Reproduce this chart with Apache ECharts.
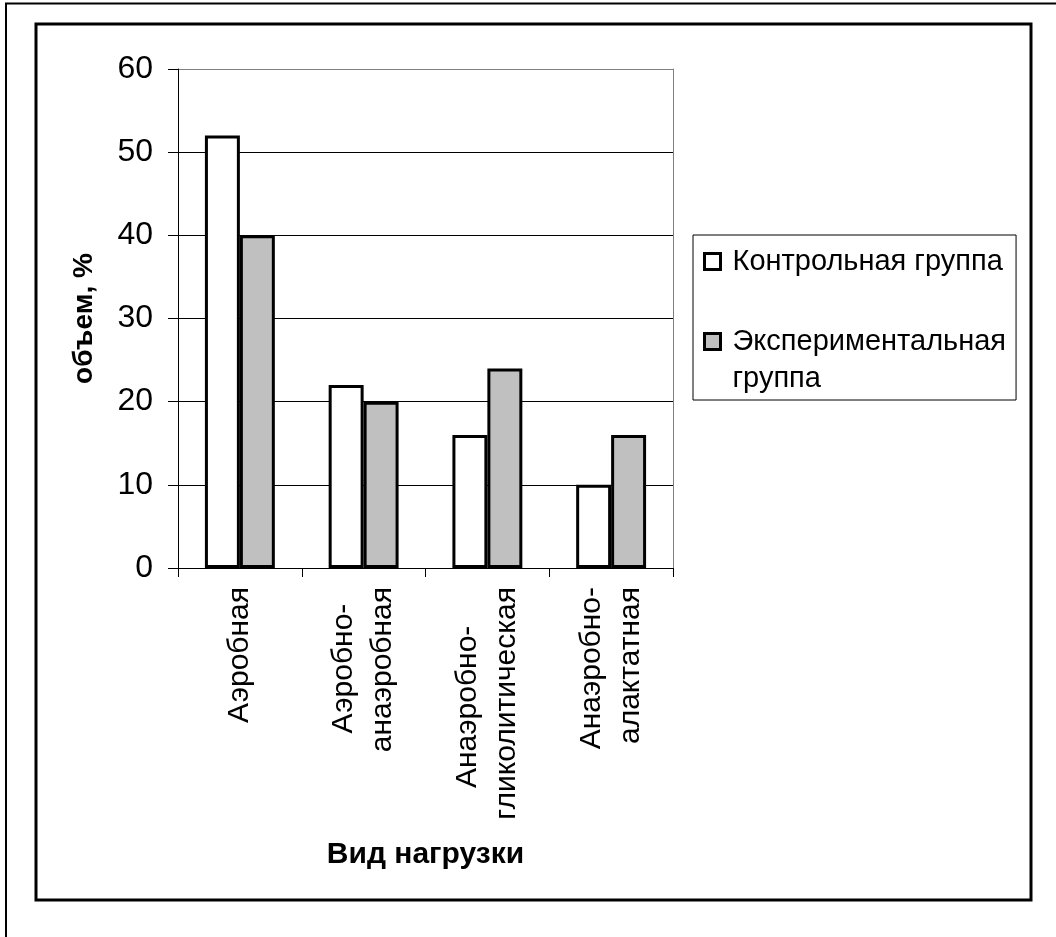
<!DOCTYPE html>
<html>
<head>
<meta charset="utf-8">
<script src="https://cdn.jsdelivr.net/npm/echarts@6/dist/echarts.min.js"></script>
<style>
html,body{margin:0;padding:0;background:#fff;}
#chart{width:1056px;height:937px;}
</style>
</head>
<body>
<div id="chart"></div>
<script>
const categories = ['Аэробная', 'Аэробно-\nанаэробная', 'Анаэробно-\nгликолитическая', 'Анаэробно-\nалактатная'];
const seriesNames = ['Контрольная группа', 'Экспериментальная группа'];
const controlValues = [52, 22, 16, 10];
const experimentalValues = [40, 20, 24, 16];
const yTicks = [0, 10, 20, 30, 40, 50, 60];

const FONT = '"Liberation Sans", Arial, sans-serif';
const LABEL_SIZE = 30;

// Centre the lines of each multi-line category label: pad shorter lines with blank characters.
const measureCtx = document.createElement('canvas').getContext('2d');
measureCtx.font = LABEL_SIZE + 'px ' + FONT;
const BLANK = '\u2800', NBSP = '\u00a0';
const blankW = measureCtx.measureText(BLANK).width;
const nbspW = measureCtx.measureText(NBSP).width;
const axisCategories = categories.map(function (cat) {
  const lines = cat.split('\n');
  const widths = lines.map(function (s) { return measureCtx.measureText(s).width; });
  const maxW = Math.max.apply(null, widths);
  return lines.map(function (s, i) {
    let pad = (maxW - widths[i]) / 2;
    const nb = blankW > 0.5 ? Math.floor(pad / blankW) : 0;
    pad -= nb * blankW;
    const ns = nbspW > 0.5 ? Math.round(pad / nbspW) : 0;
    let out = s;
    for (let k = 0; k < ns; k++) out += NBSP;
    for (let k = 0; k < nb; k++) out += BLANK;
    return out;
  }).join('\n');
});

const chart = echarts.init(document.getElementById('chart'), null, {renderer: 'canvas'});

const option = {
  backgroundColor: '#fff',
  animation: false,
  textStyle: {fontFamily: FONT, color: '#000'},
  grid: {left: 178, top: 69, right: 383, bottom: 369, containLabel: false},
  legend: {
    orient: 'vertical',
    left: 693, top: 235,
    padding: [8, 10, 3, 10],
    itemGap: 6,
    itemWidth: 16, itemHeight: 16,
    icon: 'rect',
    itemStyle: {borderColor: '#000', borderWidth: 3},
    borderColor: '#000', borderWidth: 1,
    data: seriesNames,
    formatter: function (name) {
      return name === seriesNames[1] ? '\nЭкспериментальная\nгруппа' : name;
    },
    textStyle: {fontFamily: FONT, fontSize: 29, color: '#000', lineHeight: 37, padding: [0, 0, 0, 7]}
  },
  xAxis: {
    type: 'category',
    data: axisCategories,
    name: 'Вид нагрузки',
    nameLocation: 'middle',
    nameGap: 272,
    nameTextStyle: {fontFamily: FONT, fontSize: 30, fontWeight: 'bold', color: '#000'},
    axisLine: {lineStyle: {color: '#000', width: 1}},
    axisTick: {show: true, length: 9, lineStyle: {color: '#000'}},
    axisLabel: {
      rotate: 90, margin: 19, interval: 0,
      fontFamily: FONT, fontSize: LABEL_SIZE, color: '#000', lineHeight: 39
    },
    splitLine: {show: false}
  },
  yAxis: [{
    type: 'value',
    min: 0, max: 60, interval: 10,
    name: 'объем, %',
    nameLocation: 'middle',
    nameGap: 80,
    nameRotate: 90,
    nameTextStyle: {fontFamily: FONT, fontSize: 28, fontWeight: 'bold', color: '#000'},
    axisLine: {show: true, lineStyle: {color: '#000', width: 1}},
    axisTick: {show: true, length: 10, lineStyle: {color: '#000'}},
    axisLabel: {
      margin: 25, fontFamily: FONT, fontSize: 32, color: '#000',
      formatter: function (v) { return yTicks.indexOf(v) >= 0 ? String(v) : ''; }
    },
    splitLine: {show: true, lineStyle: {color: ['#000', '#000', '#000', '#000', '#000', '#000', '#808080'], width: 1}}
  }, {
    type: 'value',
    min: 0, max: 60, interval: 10,
    position: 'right',
    axisLine: {show: true, lineStyle: {color: '#808080', width: 1}},
    axisTick: {show: false},
    axisLabel: {show: false},
    splitLine: {show: false}
  }],
  series: [{
    name: seriesNames[0],
    type: 'bar',
    data: controlValues,
    barGap: '0%',
    barCategoryGap: '43.5%',
    itemStyle: {color: '#ffffff', borderColor: '#000', borderWidth: 3}
  }, {
    name: seriesNames[1],
    type: 'bar',
    data: experimentalValues,
    barGap: '0%',
    barCategoryGap: '43.5%',
    itemStyle: {color: '#c0c0c0', borderColor: '#000', borderWidth: 3}
  }],
  graphic: [
    {id: 'outer', type: 'polyline', silent: true, z: 100, shape: {points: [[6, 937], [6, 3.5], [1056, 3.5]]}, style: {stroke: '#000', lineWidth: 2, fill: null}},
    {id: 'inner', type: 'rect', silent: true, z: 100, shape: {x: 36, y: 24, width: 995, height: 876}, style: {stroke: '#000', lineWidth: 3, fill: null}}
  ]
};
chart.setOption(option);
</script>
</body>
</html>
